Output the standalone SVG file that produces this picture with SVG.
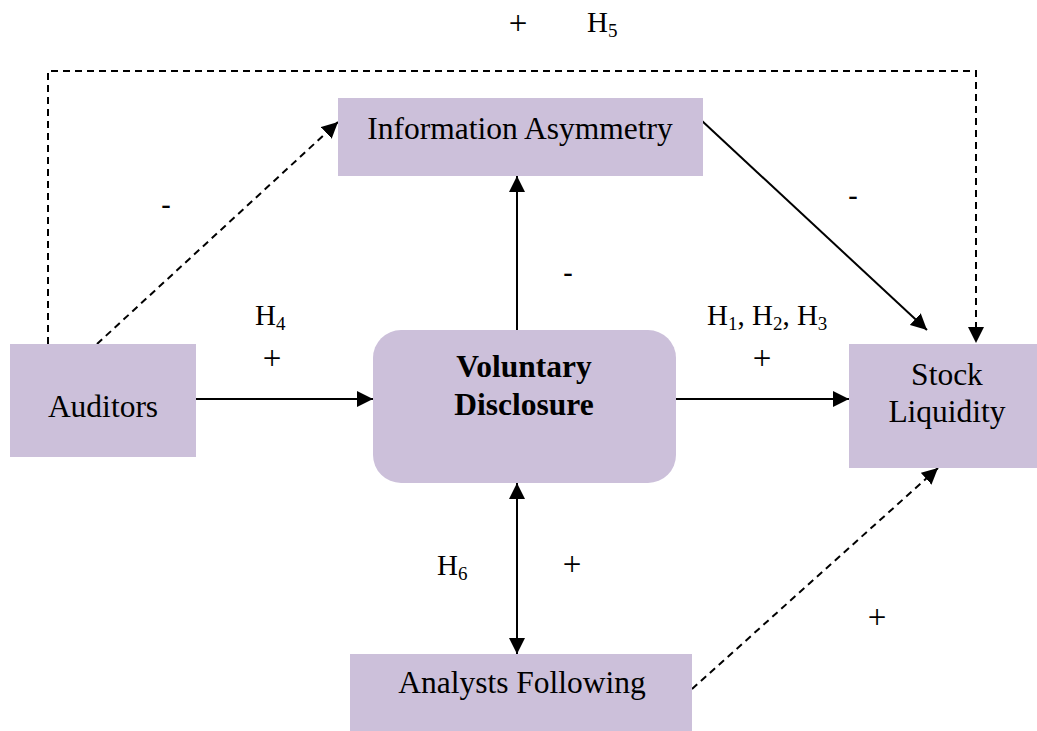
<svg xmlns="http://www.w3.org/2000/svg" width="1037" height="731" viewBox="0 0 1037 731">
  <style>
    .box { fill: #CCC0DA; stroke: none; }
    .node-text { font-family: "Liberation Serif", "Times New Roman", serif; font-size: 31.5px; fill: #000; text-anchor: middle; }
    .bold { font-weight: bold; }
    .lbl { font-family: "Liberation Serif", "Times New Roman", serif; font-size: 29px; fill: #000; }
    .sub { font-size: 19px; }
    .sign { font-family: "Liberation Serif", "Times New Roman", serif; font-size: 33px; fill: #000; text-anchor: middle; }
    .minus { font-family: "Liberation Sans", Arial, sans-serif; font-size: 30px; fill: #000; text-anchor: middle; }
    .solid { fill: none; stroke: #000; stroke-width: 2; marker-end: url(#arrow); }
    .dashed { fill: none; stroke: #000; stroke-width: 2; stroke-dasharray: 7 5; marker-end: url(#arrow); }
  </style>
  <defs>
    <marker id="arrow" viewBox="0 0 15 15" markerWidth="16" markerHeight="16" refX="15" refY="7.5" orient="auto-start-reverse" markerUnits="userSpaceOnUse">
      <path d="M0,0 L15,7.5 L0,15 Z" fill="#000"/>
    </marker>
  </defs>

  <rect width="1037" height="731" fill="#fff"/>

  <!-- connectors -->
  <g id="connectors">
    <path class="dashed" d="M48,344 V71 H976 V343"/>
    <line class="dashed" x1="97" y1="344" x2="338" y2="122"/>
    <line class="solid" x1="196" y1="399" x2="373" y2="399"/>
    <line class="solid" x1="517" y1="330" x2="517" y2="176"/>
    <line class="solid" x1="701" y1="120" x2="927" y2="330"/>
    <line class="solid" x1="676" y1="399" x2="849" y2="399"/>
    <line class="solid" x1="517" y1="483" x2="517" y2="654" style="marker-start: url(#arrow)"/>
    <line class="dashed" x1="692" y1="689" x2="938" y2="468"/>
  </g>

  <!-- nodes -->
  <g id="info-asymmetry">
    <rect class="box" x="338" y="98" width="365" height="78"/>
    <text class="node-text" x="520" y="139">Information Asymmetry</text>
  </g>
  <g id="auditors">
    <rect class="box" x="10" y="344" width="186" height="113"/>
    <text class="node-text" x="103" y="417">Auditors</text>
  </g>
  <g id="voluntary-disclosure">
    <rect class="box" x="373" y="330" width="303" height="153" rx="28" ry="28"/>
    <text class="node-text bold" x="524" y="377">Voluntary</text>
    <text class="node-text bold" x="524" y="415">Disclosure</text>
  </g>
  <g id="stock-liquidity">
    <rect class="box" x="849" y="344" width="196" height="124"/>
    <text class="node-text" x="947" y="385">Stock</text>
    <text class="node-text" x="947" y="422">Liquidity</text>
  </g>
  <g id="analysts-following">
    <rect class="box" x="350" y="654" width="342" height="80"/>
    <text class="node-text" x="522" y="693">Analysts Following</text>
  </g>

  <!-- connector labels -->
  <g id="labels">
    <text class="sign" x="518" y="34">+</text>
    <text class="lbl" x="587" y="32">H<tspan class="sub" dy="5">5</tspan></text>

    <text class="minus" x="166" y="215">-</text>
    <text class="minus" x="568" y="283">-</text>
    <text class="minus" x="853" y="206">-</text>

    <text class="lbl" x="255" y="325">H<tspan class="sub" dy="5">4</tspan></text>
    <text class="sign" x="272" y="369">+</text>

    <text class="lbl" x="707" y="325">H<tspan class="sub" dy="5">1</tspan><tspan dy="-5">, H</tspan><tspan class="sub" dy="5">2</tspan><tspan dy="-5">, H</tspan><tspan class="sub" dy="5">3</tspan></text>
    <text class="sign" x="762" y="369">+</text>

    <text class="lbl" x="437" y="575">H<tspan class="sub" dy="5">6</tspan></text>
    <text class="sign" x="572" y="575">+</text>

    <text class="sign" x="877" y="628">+</text>
  </g>
</svg>
